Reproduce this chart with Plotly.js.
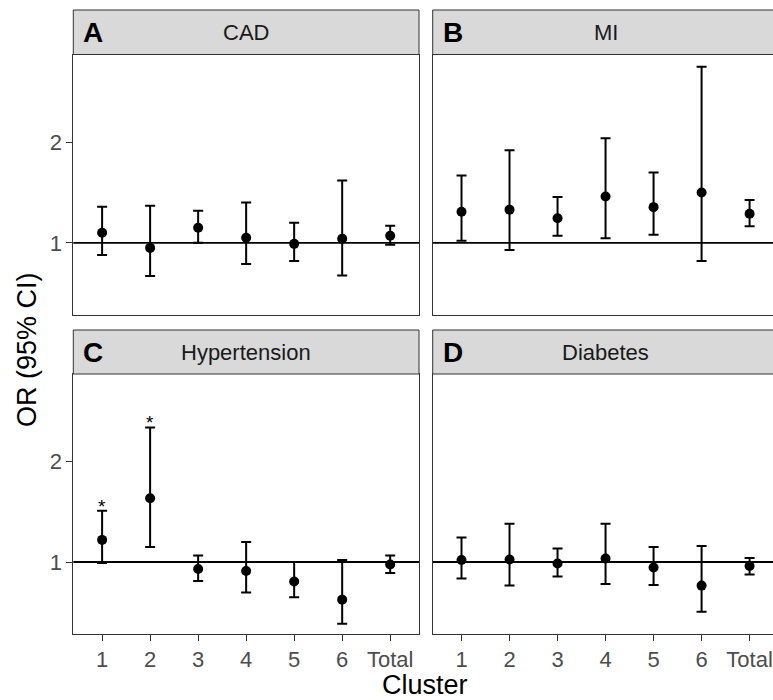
<!DOCTYPE html>
<html>
<head>
<meta charset="utf-8">
<script src="https://cdn.plot.ly/plotly-3.0.1.min.js"></script>
<style>
html,body{margin:0;padding:0;overflow:hidden;background:#fff;}
#chart{width:780px;height:700px;}
</style>
</head>
<body>
<div id="chart"></div>
<script>
// ---- data ----
var clusters = ['1','2','3','4','5','6','Total'];
var panelNames = ['CAD','MI','Hypertension','Diabetes'];
var panelLetters = ['A','B','C','D'];

var cadOR = [1.10, 0.95, 1.15, 1.05, 0.99, 1.04, 1.07];
var cadLo = [0.88, 0.67, 1.00, 0.79, 0.82, 0.675, 0.98];
var cadHi = [1.36, 1.37, 1.32, 1.40, 1.20, 1.62, 1.17];

var miOR = [1.31, 1.33, 1.245, 1.46, 1.355, 1.50, 1.29];
var miLo = [1.02, 0.93, 1.07, 1.045, 1.08, 0.82, 1.165];
var miHi = [1.67, 1.92, 1.455, 2.04, 1.70, 2.75, 1.425];

var htnOR = [1.22, 1.635, 0.93, 0.91, 0.805, 0.625, 0.975];
var htnLo = [0.99, 1.15, 0.81, 0.695, 0.65, 0.385, 0.89];
var htnHi = [1.51, 2.34, 1.065, 1.20, 1.00, 1.02, 1.065];

var dmOR = [1.02, 1.025, 0.985, 1.035, 0.945, 0.765, 0.96];
var dmLo = [0.835, 0.765, 0.855, 0.78, 0.77, 0.505, 0.875];
var dmHi = [1.245, 1.38, 1.135, 1.38, 1.15, 1.16, 1.04];

var sigClusters = ['1','2']; // Hypertension panel, marked with *

var yTicks = [1, 2];

// ---- layout geometry (px) ----
var W = 780, H = 700;
var colX = [[73.3, 419], [432.7, 778.4]];
var rowY = [[54.5, 315], [374, 634]];   // plot area top/bottom from top
var stripTop = [10, 330];
var FONT = 'Liberation Sans, Arial, Helvetica, sans-serif';

function px2x(p){ return p / W; }
function px2y(p){ return 1 - p / H; }

var series = [
  {or: cadOR, lo: cadLo, hi: cadHi},
  {or: miOR, lo: miLo, hi: miHi},
  {or: htnOR, lo: htnLo, hi: htnHi},
  {or: dmOR, lo: dmLo, hi: dmHi}
];

var traces = [];
var layout = {
  width: W, height: H,
  margin: {l:0, r:0, t:0, b:0},
  paper_bgcolor: '#fff', plot_bgcolor: '#fff',
  showlegend: false,
  font: {family: FONT, color: '#4d4d4d'},
  shapes: [], annotations: []
};

for (var i = 0; i < 4; i++) {
  var col = i % 2, row = Math.floor(i / 2);
  var s = series[i];
  var sfx = i === 0 ? '' : String(i + 1);
  var xa = 'x' + sfx, ya = 'y' + sfx;
  traces.push({
    type: 'scatter', mode: 'markers',
    x: clusters, y: s.or,
    xaxis: xa, yaxis: ya,
    marker: {color: '#000', size: 10},
    error_y: {
      type: 'data', symmetric: false,
      array: s.hi.map(function(h, k){ return h - s.or[k]; }),
      arrayminus: s.lo.map(function(l, k){ return s.or[k] - l; }),
      color: '#000', thickness: 2, width: 5
    },
    hoverinfo: 'x+y'
  });
  layout['xaxis' + sfx] = {
    domain: [px2x(colX[col][0]), px2x(colX[col][1])],
    anchor: ya, type: 'category',
    categoryorder: 'array', categoryarray: clusters,
    range: [-0.6, 6.6],
    showgrid: false, zeroline: false,
    showline: true, mirror: true, linecolor: '#333', linewidth: 1,
    ticks: row === 1 ? 'outside' : '', ticklen: 6, tickcolor: '#333', tickwidth: 1,
    showticklabels: row === 1,
    tickfont: {size: 22, color: '#4d4d4d', family: FONT},
    fixedrange: true
  };
  layout['yaxis' + sfx] = {
    domain: [px2y(rowY[row][1]), px2y(rowY[row][0])],
    anchor: xa,
    range: [0.283, 2.872],
    tickvals: yTicks, ticktext: yTicks.map(String),
    showgrid: false, zeroline: false,
    showline: true, mirror: true, linecolor: '#333', linewidth: 1,
    ticks: col === 0 ? 'outside' : '', ticklen: 6, tickcolor: '#333', tickwidth: 1,
    showticklabels: col === 0,
    tickfont: {size: 22, color: '#4d4d4d', family: FONT},
    fixedrange: true
  };
  // reference line at OR = 1
  layout.shapes.push({
    type: 'line', xref: xa + ' domain', yref: ya,
    x0: 0, x1: 1, y0: 1, y1: 1,
    line: {color: '#000', width: 1.8}, layer: 'below'
  });
  // strip
  layout.shapes.push({
    type: 'rect', xref: 'paper', yref: 'paper',
    x0: px2x(colX[col][0]), x1: px2x(colX[col][1]),
    y0: px2y(rowY[row][0]), y1: px2y(stripTop[row]),
    fillcolor: '#d9d9d9', line: {color: '#333', width: 1}
  });
  var stripMid = (stripTop[row] + rowY[row][0]) / 2;
  layout.annotations.push({
    xref: 'paper', yref: 'paper',
    x: px2x((colX[col][0] + colX[col][1]) / 2), y: px2y(stripMid),
    xanchor: 'center', yanchor: 'middle', showarrow: false,
    text: panelNames[i], font: {size: 22, color: '#1a1a1a', family: FONT}
  });
  layout.annotations.push({
    xref: 'paper', yref: 'paper',
    x: px2x(colX[col][0] + 8), y: px2y(stripMid),
    xanchor: 'left', yanchor: 'middle', showarrow: false,
    text: '<b>' + panelLetters[i] + '</b>', font: {size: 28, color: '#000', family: FONT}
  });
}

// significance asterisks (Hypertension panel)
sigClusters.forEach(function(c){
  var k = clusters.indexOf(c);
  layout.annotations.push({
    xref: 'x3', yref: 'y3', x: k, y: htnHi[k],
    xanchor: 'center', yanchor: 'bottom', showarrow: false, yshift: -8,
    text: '*', font: {size: 19, color: '#000', family: FONT}
  });
});

// axis titles
layout.annotations.push({
  xref: 'paper', yref: 'paper', x: px2x(27), y: px2y(350),
  xanchor: 'center', yanchor: 'middle', showarrow: false, textangle: -90,
  text: 'OR (95% CI)', font: {size: 27, color: '#000', family: FONT}
});
layout.annotations.push({
  xref: 'paper', yref: 'paper', x: px2x(425), y: px2y(685),
  xanchor: 'center', yanchor: 'middle', showarrow: false,
  text: 'Cluster', font: {size: 27, color: '#000', family: FONT}
});

Plotly.newPlot('chart', traces, layout, {displayModeBar: false, staticPlot: true});
</script>
</body>
</html>
